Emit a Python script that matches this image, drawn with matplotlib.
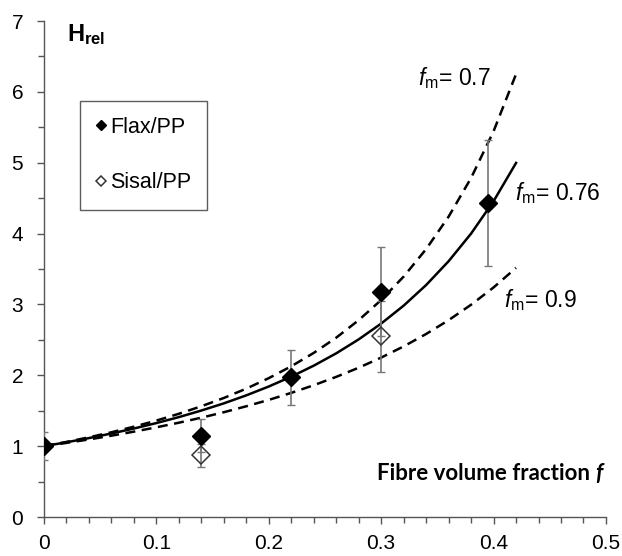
import matplotlib
matplotlib.use("Agg")
import matplotlib.pyplot as plt
from matplotlib.ticker import MultipleLocator

plt.rcParams['font.family'] = ['Liberation Sans', 'DejaVu Sans']
plt.rcParams['mathtext.fontset'] = 'custom'
plt.rcParams['mathtext.rm'] = 'Liberation Sans'
plt.rcParams['mathtext.it'] = 'Liberation Sans:italic'
plt.rcParams['mathtext.bf'] = 'Liberation Sans:bold'

# measured points
flax_f = [0.0, 0.14, 0.22, 0.30, 0.395]
flax_h = [1.0, 1.15, 1.97, 3.18, 4.43]
flax_err = [0.20, 0.23, 0.39, 0.63, 0.89]

sisal_f = [0.14, 0.30]
sisal_h = [0.87, 2.55]
sisal_err = [0.16, 0.50]

# model curves
curve_f = [0.0, 0.02, 0.04, 0.06, 0.08, 0.10, 0.12, 0.14, 0.16, 0.18, 0.20,
           0.22, 0.24, 0.26, 0.28, 0.30, 0.32, 0.34, 0.36, 0.38, 0.40, 0.42]
h_fm070 = [1.000, 1.060, 1.125, 1.196, 1.275, 1.361, 1.457, 1.563, 1.680, 1.812, 1.960,
           2.127, 2.316, 2.531, 2.778, 3.063, 3.393, 3.781, 4.239, 4.785, 5.444, 6.250]
h_fm076 = [1.000, 1.055, 1.114, 1.179, 1.249, 1.326, 1.410, 1.503, 1.604, 1.717, 1.842,
           1.981, 2.136, 2.310, 2.507, 2.730, 2.983, 3.274, 3.610, 4.000, 4.457, 4.997]
h_fm090 = [1.000, 1.046, 1.095, 1.148, 1.205, 1.266, 1.331, 1.402, 1.479, 1.563, 1.653,
           1.752, 1.860, 1.978, 2.107, 2.250, 2.408, 2.583, 2.778, 2.996, 3.240, 3.516]

fig = plt.figure(figsize=(6.22, 5.56), dpi=100)
ax = fig.add_axes([0.0707, 0.0701, 0.9035, 0.8921])

ax.plot(curve_f, h_fm070, color='black', lw=1.8, linestyle=(0, (4, 2.6)))
ax.plot(curve_f, h_fm090, color='black', lw=1.8, linestyle=(0, (4, 2.6)))
ax.plot(curve_f, h_fm076, color='black', lw=1.8)

ax.errorbar(flax_f, flax_h, yerr=flax_err, fmt='none', ecolor='#777777',
            elinewidth=1.2, capsize=3, capthick=1.0, zorder=3)
ax.errorbar(sisal_f, sisal_h, yerr=sisal_err, fmt='none', ecolor='#777777',
            elinewidth=1.2, capsize=3, capthick=1.0, zorder=3)
flax_pts, = ax.plot(flax_f, flax_h, linestyle='none', marker='D', ms=9.5,
                    color='black', zorder=4, label='Flax/PP')
sisal_pts, = ax.plot(sisal_f, sisal_h, linestyle='none', marker='D', ms=9.5,
                     markerfacecolor='none', markeredgecolor='#333333',
                     markeredgewidth=1.1, zorder=4, label='Sisal/PP')

ax.set_xlim(0, 0.5)
ax.set_ylim(0, 7)
ax.set_xticks([0, 0.1, 0.2, 0.3, 0.4, 0.5])
ax.set_xticklabels(['0', '0.1', '0.2', '0.3', '0.4', '0.5'])
ax.xaxis.set_minor_locator(MultipleLocator(0.02))
ax.yaxis.set_major_locator(MultipleLocator(1))
ax.yaxis.set_minor_locator(MultipleLocator(0.5))

for s in ['top', 'right']:
    ax.spines[s].set_visible(False)
for s in ['left', 'bottom']:
    ax.spines[s].set_color('#555555')
    ax.spines[s].set_linewidth(1.0)
ax.tick_params(which='both', direction='out', color='#555555', width=1.0, labelsize=15)
ax.tick_params(which='major', length=5)
ax.tick_params(which='minor', length=4)
ax.tick_params(axis='x', pad=7)
ax.tick_params(axis='y', pad=10)

ax.text(0.0205, 6.72, r'$\mathbf{H}_{\mathbf{rel}}$', fontsize=17)
ax.text(0.333, 6.19, r'$f_{\mathrm{m}}$= 0.7', fontsize=16.5, va='center')
ax.text(0.419, 4.57, r'$f_{\mathrm{m}}$= 0.76', fontsize=16.5, va='center')
ax.text(0.409, 3.06, r'$f_{\mathrm{m}}$= 0.9', fontsize=16.5, va='center')
ax.text(0.4905, 0.62, 'Fibre volume fraction ', fontsize=16, fontweight='bold',
        family='Lato', ha='right', va='center')
ax.text(0.4905, 0.62, 'f', fontsize=16, fontweight='bold', fontstyle='italic',
        family='Lato', ha='left', va='center')

leg = ax.legend(handles=[flax_pts, sisal_pts], loc='upper left',
                bbox_to_anchor=(0.064, 0.839), fontsize=15.5, markerscale=0.5,
                handlelength=0.5, handletextpad=0.15, labelspacing=1.6,
                borderpad=0.75, borderaxespad=0, fancybox=False, frameon=True)
leg.get_frame().set_edgecolor('#333333')
leg.get_frame().set_linewidth(1.0)

fig.savefig('out.png', dpi=100)
